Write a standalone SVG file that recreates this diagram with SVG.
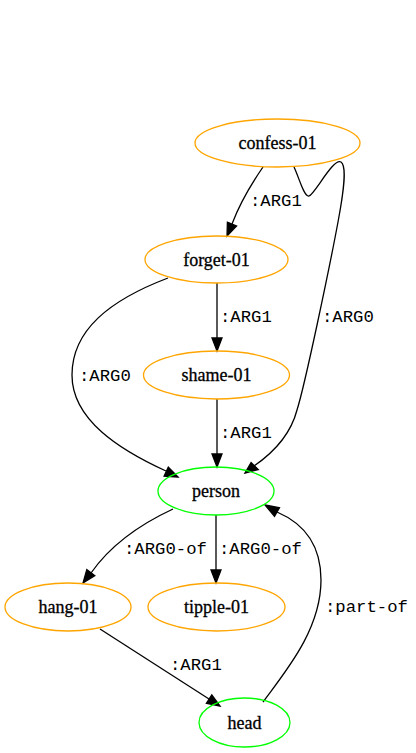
<svg xmlns="http://www.w3.org/2000/svg" width="416" height="753" viewBox="0 0 416 753">
<style>
.n ellipse{fill:none;stroke-width:1.3}
.o ellipse{stroke:#ffa500}
.g ellipse{stroke:#00ff00}
.n text{font-family:"Liberation Serif","Times New Roman",serif;font-size:18px;text-anchor:middle;fill:#000;stroke:#000;stroke-width:0.3}
.e path{fill:none;stroke:#000;stroke-width:1.3}
.e polygon{fill:#000;stroke:#000;stroke-width:1.3}
.e text{font-family:"Liberation Mono","Courier New",monospace;font-size:17.3px;fill:#000}
</style>
<rect width="416" height="753" fill="#fff"/>
<g id="edges" class="e">
<path d="M263,167 C252,183 240,203 232,224"/>
<polygon points="227,236 236.6,225.9 227.4,222.1"/>
<text x="250" y="206">:ARG1</text>
<path d="M294,167 C300,180 304,197 309,196 C315,194 333,158 341,162 C347,166 344,190 338,222 C330,265 305,385 297,410 C290,437 270,455 254,466"/>
<polygon points="245,473 258.3,469.6 251.1,462.5"/>
<text x="322" y="322">:ARG0</text>
<path d="M217,283 L217,338"/>
<polygon points="217,351 222,338 212,338"/>
<text x="220" y="322">:ARG1</text>
<path d="M168,278 C110,300 72,330 72,375 C72,420 120,450 166,471"/>
<polygon points="178,477 164.1,476.1 168.3,467.1"/>
<text x="79" y="381">:ARG0</text>
<path d="M217,399 L217,454"/>
<polygon points="217,467 222,454 212,454"/>
<text x="220" y="438">:ARG1</text>
<path d="M173,509 C145,522 112,543 91,573"/>
<polygon points="83,583 94.8,575.6 86.8,569.6"/>
<text x="124" y="554">:ARG0-of</text>
<path d="M216,515 L216,570"/>
<polygon points="216,583 221,570 211,570"/>
<text x="219" y="554">:ARG0-of</text>
<path d="M100,629 L209,699"/>
<polygon points="220,706 206.4,703.2 211.8,694.8"/>
<text x="170" y="670">:ARG1</text>
<path d="M263,702 C285,672 321,630 321,580 C321,545 305,524 277,512"/>
<polygon points="265,505 279.5,507.7 274.5,516.3"/>
<text x="325" y="612">:part-of</text>
</g>
<g id="confess-01" class="n o"><ellipse cx="277.5" cy="143" rx="82.5" ry="24"/><text x="277.5" y="149">confess-01</text></g>
<g id="forget-01" class="n o"><ellipse cx="216.5" cy="259.5" rx="71.5" ry="23.5"/><text x="216.5" y="265.5">forget-01</text></g>
<g id="shame-01" class="n o"><ellipse cx="216.5" cy="375" rx="73" ry="24"/><text x="216.5" y="381">shame-01</text></g>
<g id="person" class="n g"><ellipse cx="216" cy="491" rx="58" ry="24"/><text x="216" y="497">person</text></g>
<g id="hang-01" class="n o"><ellipse cx="68" cy="607" rx="63" ry="24"/><text x="68" y="613">hang-01</text></g>
<g id="tipple-01" class="n o"><ellipse cx="216.5" cy="607" rx="68.5" ry="24"/><text x="216.5" y="613">tipple-01</text></g>
<g id="head" class="n g"><ellipse cx="244.5" cy="722.5" rx="45.5" ry="24.5"/><text x="244.5" y="728.5">head</text></g>
</svg>
